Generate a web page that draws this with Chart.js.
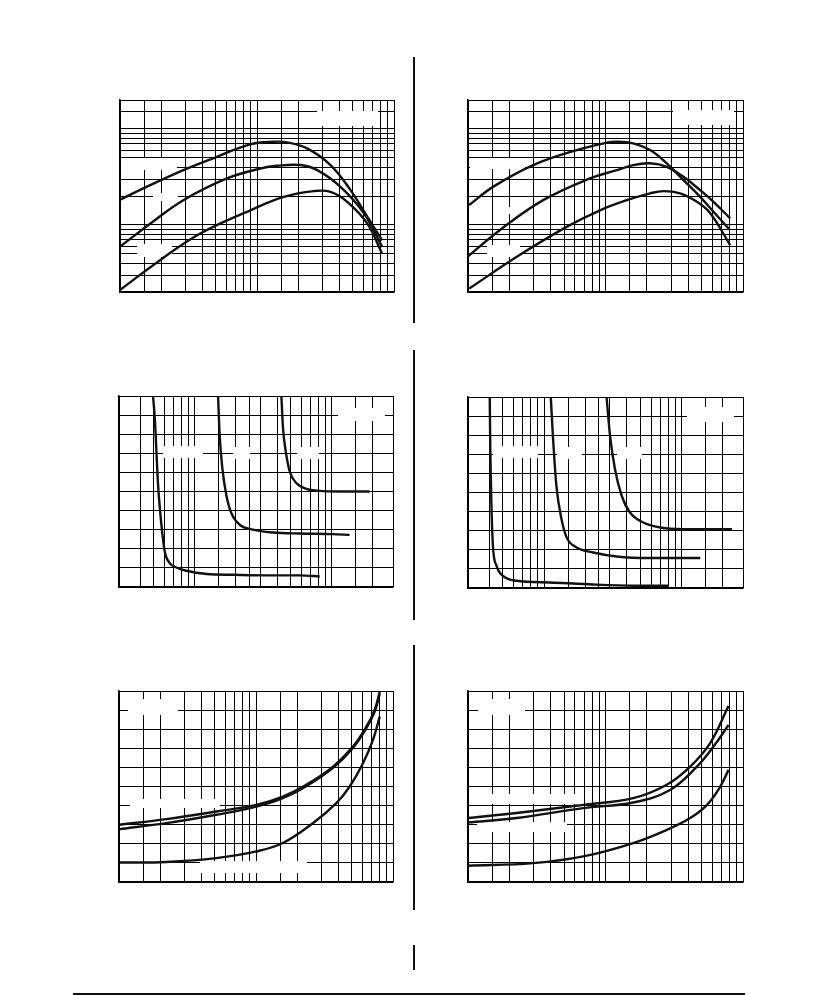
<!DOCTYPE html>
<html>
<head>
<meta charset="utf-8">
<script src="https://cdn.jsdelivr.net/npm/chart.js@4.4.1/dist/chart.umd.min.js"></script>
<style>
  html, body { margin: 0; padding: 0; background: #fff; }
  body { position: relative; width: 816px; height: 995px; overflow: hidden; font-family: "Liberation Sans", Arial, sans-serif; }
  canvas { position: absolute; }
  .rule { position: absolute; background: #111; }
</style>
</head>
<body>
<canvas id="c1"></canvas>
<canvas id="c2"></canvas>
<canvas id="c3"></canvas>
<canvas id="c4"></canvas>
<canvas id="c5"></canvas>
<canvas id="c6"></canvas>

<div class="rule" style="left:413px;top:57px;width:2px;height:266px"></div>
<div class="rule" style="left:413px;top:350px;width:2px;height:270px"></div>
<div class="rule" style="left:413px;top:645px;width:2px;height:265px"></div>
<div class="rule" style="left:413px;top:945px;width:2px;height:25px"></div>
<div class="rule" style="left:73px;top:993px;width:672px;height:2px"></div>

<script>
// grid ticks
const X_TICKS_DECADES = [1, 1.5, 2, 3, 4, 5, 6, 7, 8, 9, 10, 15, 20, 30, 40, 50, 60, 70, 80, 90, 100];
const Y_TICKS_LOG = [0.2, 0.3, 0.4, 0.5, 0.6, 0.7, 0.8, 0.9, 1, 2, 3, 4, 5, 6, 7, 8, 9, 10, 15, 20];
const X_TICKS_MID = [0.28, 0.4, 0.5, 0.6, 0.7, 0.8, 0.9, 1, 1.5, 2, 2.5, 3, 4, 5, 6, 7, 8, 9, 10, 15, 20, 28];
const LIN_Y_TICKS = [0, 1, 2, 3, 4, 5, 6, 7, 8, 9, 10];

// top-left
const C1_UPPER_X = [1.01, 1.48, 2.9, 5.1, 8.9, 13.2, 16.6, 23.2, 34.4, 48.2, 63.9, 82];
const C1_UPPER_Y = [1.84, 2.40, 3.72, 5.12, 6.90, 7.35, 7.24, 6.27, 4.20, 2.30, 1.21, 0.69];
const C1_MID_X = [1.01, 1.66, 2.9, 6.04, 10.6, 14.0, 20.8, 27.5, 40.7, 60.3, 82];
const C1_MID_Y = [0.60, 1.03, 1.81, 3.05, 3.87, 4.13, 4.20, 3.72, 2.49, 1.32, 0.59];
const C1_LOW_X = [1.01, 1.96, 3.85, 8.94, 15.7, 26.0, 34.4, 45.6, 63.9, 82];
const C1_LOW_Y = [0.212, 0.429, 0.813, 1.42, 1.96, 2.25, 2.21, 1.74, 1.03, 0.50];

// top-right
const C2_UPPER_X = [1.02, 1.52, 2.98, 6.17, 10.2, 12.1, 15.9, 21.1, 27.9, 36.9, 48.8, 61.0, 80.7];
const C2_UPPER_Y = [1.61, 2.49, 4.20, 6.02, 7.18, 7.35, 7.07, 6.02, 4.38, 2.93, 1.96, 1.37, 0.88];
const C2_MID_X = [1.0, 1.70, 3.52, 7.71, 12.1, 15.9, 21.1, 27.9, 36.9, 48.8, 61.0, 80.7];
const C2_MID_Y = [0.47, 0.88, 1.81, 3.05, 3.72, 4.20, 4.38, 4.03, 3.17, 2.30, 1.74, 1.17];
const C2_LOW_X = [1.02, 2.25, 5.21, 9.12, 14.3, 21.1, 26.4, 34.9, 46.2, 57.8, 80.7];
const C2_LOW_Y = [0.217, 0.463, 0.953, 1.42, 1.81, 2.13, 2.25, 2.13, 1.74, 1.32, 0.614];

// middle-left
const C3_A_X = [0.496, 0.511, 0.540, 0.571, 0.604, 0.657, 0.735, 0.870, 1.22, 1.90, 3.34, 5.84, 8.18];
const C3_A_Y = [10, 8.83, 5.35, 3.26, 1.86, 1.25, 1.02, 0.85, 0.68, 0.64, 0.61, 0.61, 0.55];
const C3_B_X = [1.48, 1.52, 1.59, 1.70, 1.85, 2.13, 2.66, 3.73, 5.84, 10.2, 13.5];
const C3_B_Y = [10, 7.96, 6.22, 4.82, 3.87, 3.26, 3.00, 2.85, 2.80, 2.77, 2.73];
const C3_C_X = [4.29, 4.41, 4.62, 4.94, 5.52, 6.53, 8.17, 11.4, 18.9];
const C3_C_Y = [10, 8.31, 7.09, 6.04, 5.44, 5.14, 5.03, 5.0, 5.0];

// middle-right
const C4_A_X = [0.403, 0.407, 0.414, 0.425, 0.451, 0.503, 0.631, 1.10, 1.93, 4.46, 8.03];
const C4_A_Y = [10, 7.09, 4.47, 2.21, 1.17, 0.64, 0.38, 0.29, 0.21, 0.12, 0.12];
const C4_B_X = [1.12, 1.16, 1.23, 1.34, 1.46, 1.73, 2.28, 3.38, 5.90, 13.7];
const C4_B_Y = [10, 7.98, 5.36, 3.61, 2.65, 2.12, 1.86, 1.65, 1.57, 1.57];
const C4_C_X = [2.85, 3.02, 3.28, 3.67, 4.22, 5.27, 6.98, 10.3, 23.3];
const C4_C_Y = [10, 7.98, 6.23, 4.83, 3.95, 3.43, 3.17, 3.08, 3.08];

// bottom-left
const C5_A_X = [1.01, 2.21, 5.13, 10.05, 15.7, 23.3, 36.5, 51.0, 63.9, 73.5, 80.0];
const C5_A_Y = [3.00, 3.29, 3.69, 4.04, 4.47, 5.09, 6.04, 7.09, 8.13, 9.01, 9.96];
const C5_B_X = [1.01, 2.21, 5.13, 10.05, 15.7, 23.3, 36.5, 51.0, 63.9, 73.5, 80.0];
const C5_B_Y = [2.77, 3.08, 3.52, 3.95, 4.39, 5.02, 5.98, 7.02, 8.05, 8.92, 9.85];
const C5_C_X = [1.01, 2.21, 5.13, 10.05, 15.7, 26.0, 38.6, 48.3, 60.4, 71.4, 80.0];
const C5_C_Y = [1.02, 1.05, 1.25, 1.60, 2.04, 3.08, 4.13, 5.00, 6.22, 7.44, 8.66];

// bottom-right
const C6_A_X = [1.0, 2.25, 6.89, 15.9, 27.9, 41.3, 57.7, 78.5];
const C6_A_Y = [3.35, 3.61, 4.04, 4.39, 5.09, 6.04, 7.27, 9.22];
const C6_B_X = [1.0, 2.25, 6.89, 15.9, 29.5, 46.2, 61.0, 78.5];
const C6_B_Y = [3.12, 3.35, 3.87, 4.16, 4.82, 6.04, 7.09, 8.22];
const C6_C_X = [1.0, 2.98, 6.89, 15.9, 27.9, 41.3, 54.7, 68.4, 78.5];
const C6_C_Y = [0.85, 0.99, 1.34, 2.04, 2.73, 3.35, 4.04, 5.00, 5.87];

const PAD = 3;

// white label patches over the grid, [x, y, w, h] from chart area top-left
const labelMasks = {
  id: 'labelMasks',
  beforeDatasetsDraw(chart, args, opts) {
    const { ctx, chartArea } = chart;
    ctx.save();
    ctx.fillStyle = '#fff';
    (opts.boxes || []).forEach(([x, y, w, h]) => {
      ctx.fillRect(chartArea.left + x, chartArea.top + y, w, h);
    });
    ctx.restore();
  },
};
Chart.register(labelMasks);

const zip = (xs, ys) => xs.map((x, i) => ({ x, y: ys[i] }));

// smooth = plain bezier, steep = monotone (the near-vertical knees)
const curve = (xs, ys, steep) => ({
  data: zip(xs, ys),
  showLine: true,
  borderColor: '#111',
  borderWidth: 2.4,
  pointRadius: 0,
  tension: 0.4,
  cubicInterpolationMode: steep ? 'monotone' : 'default',
  fill: false,
});

const fixedTicks = (values) => (scale) => {
  scale.ticks = values.map((v) => ({ value: v }));
};

const axis = (type, min, max, values) => ({
  type,
  min,
  max,
  afterBuildTicks: fixedTicks(values),
  ticks: { display: false },
  grid: { color: '#000', lineWidth: 1, drawTicks: false },
  border: { display: true, color: '#000', width: 1.5 },
});

const makeChart = (id, box, xScale, yScale, series, boxes) => {
  const el = document.getElementById(id);
  const [left, top, w, h] = box;
  el.width = w + PAD * 2;
  el.height = h + PAD * 2;
  el.style.left = (left - PAD) + 'px';
  el.style.top = (top - PAD) + 'px';
  new Chart(el, {
    type: 'scatter',
    data: { datasets: series },
    options: {
      responsive: false,
      animation: false,
      layout: { padding: PAD },
      scales: { x: xScale, y: yScale },
      plugins: {
        legend: { display: false },
        tooltip: { enabled: false },
        labelMasks: { boxes },
      },
    },
  });
};

makeChart('c1', [120, 100, 274, 192],
  axis('logarithmic', 1, 100, X_TICKS_DECADES),
  axis('logarithmic', 0.2, 20, Y_TICKS_LOG),
  [curve(C1_UPPER_X, C1_UPPER_Y), curve(C1_MID_X, C1_MID_Y), curve(C1_LOW_X, C1_LOW_Y)],
  [[197, 11, 61, 15], [1, 58, 56, 12], [33, 93, 25, 8], [17, 144, 35, 13]]);

makeChart('c2', [468, 100, 275, 192],
  axis('logarithmic', 1, 100, X_TICKS_DECADES),
  axis('logarithmic', 0.2, 20, Y_TICKS_LOG),
  [curve(C2_UPPER_X, C2_UPPER_Y), curve(C2_MID_X, C2_MID_Y), curve(C2_LOW_X, C2_LOW_Y)],
  [[205, 10, 61, 15], [2, 58, 55, 11], [32, 107, 28, 7], [19, 145, 33, 12]]);

makeChart('c3', [119, 396, 274, 191],
  axis('logarithmic', 0.28, 28, X_TICKS_MID),
  axis('linear', 0, 10, LIN_Y_TICKS),
  [curve(C3_A_X, C3_A_Y, true), curve(C3_B_X, C3_B_Y, true), curve(C3_C_X, C3_C_Y, true)],
  [[219, 12, 47, 13], [44, 50, 40, 12], [114, 51, 17, 12], [178, 51, 22, 12]]);

makeChart('c4', [468, 397, 275, 191],
  axis('logarithmic', 0.28, 28, X_TICKS_MID),
  axis('linear', 0, 10, LIN_Y_TICKS),
  [curve(C4_A_X, C4_A_Y, true), curve(C4_B_X, C4_B_Y, true), curve(C4_C_X, C4_C_Y, true)],
  [[219, 10, 47, 15], [25, 49, 45, 12], [89, 50, 25, 12], [149, 50, 25, 12]]);

makeChart('c5', [119, 691, 274, 191],
  axis('logarithmic', 1, 100, X_TICKS_DECADES),
  axis('linear', 0, 10, LIN_Y_TICKS),
  [curve(C5_A_X, C5_A_Y), curve(C5_B_X, C5_B_Y), curve(C5_C_X, C5_C_Y)],
  [[9, 8, 50, 16], [11, 108, 90, 9], [81, 170, 107, 12]]);

makeChart('c6', [468, 691, 275, 191],
  axis('logarithmic', 1, 100, X_TICKS_DECADES),
  axis('linear', 0, 10, LIN_Y_TICKS),
  [curve(C6_A_X, C6_A_Y), curve(C6_B_X, C6_B_Y), curve(C6_C_X, C6_C_Y)],
  [[10, 8, 47, 16], [10, 103, 98, 10], [9, 131, 90, 10]]);
</script>
</body>
</html>
